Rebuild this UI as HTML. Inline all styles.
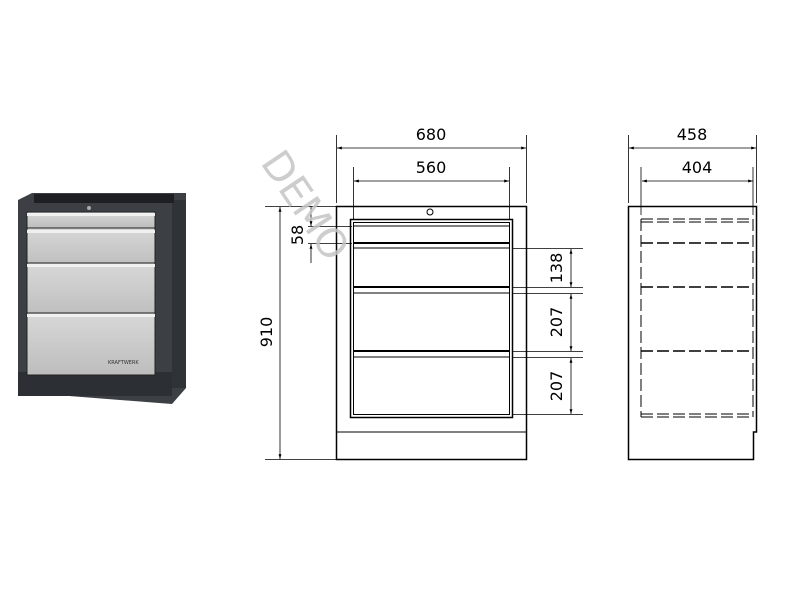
<!DOCTYPE html>
<html><head><style>body{margin:0;background:#fff}svg{display:block}</style></head><body>
<svg width="800" height="600" viewBox="0 0 800 600" xmlns="http://www.w3.org/2000/svg" font-family="DejaVu Sans, Liberation Sans, sans-serif">
<defs>
<marker id="a" viewBox="0 0 10 10" refX="10" refY="5" markerWidth="8" markerHeight="6" orient="auto-start-reverse"><path d="M0,2 L10,5 L0,8z" fill="#000"/></marker>
<linearGradient id="g" x1="0" y1="0" x2="0" y2="1"><stop offset="0" stop-color="#d8d8d8"/><stop offset="1" stop-color="#bdbdbd"/></linearGradient>
</defs>
<!-- photo -->
<path d="M18,200 L32,193 L186,193 L186,388 L172,404 L18,392 Z" fill="#3c4045"/>
<rect x="172" y="200" width="14" height="188" fill="#2f3237"/>
<rect x="34" y="194" width="140" height="9" fill="#1e1f22"/>
<rect x="18" y="372" width="154" height="24" fill="#2c2f33"/>
<circle cx="89" cy="208" r="2" fill="#aaa"/>
<g stroke="#222" stroke-width="1">
<rect x="27" y="212" width="128" height="16" fill="url(#g)"/>
<rect x="27" y="228" width="128" height="39" fill="url(#g)"/>
<rect x="27" y="263" width="128" height="56" fill="url(#g)"/>
<rect x="27" y="313" width="128" height="62" fill="url(#g)"/>
</g>
<g fill="#f0f0f0"><rect x="27" y="213" width="128" height="3"/><rect x="27" y="230" width="128" height="3"/><rect x="27" y="264" width="128" height="3"/><rect x="27" y="314" width="128" height="3"/></g>
<text x="108" y="364" font-size="5" fill="#333">KRAFTWERK</text>
<!-- front view -->
<g stroke="#000" fill="none" stroke-width="1">
<rect x="336.5" y="206.5" width="190" height="253" stroke-width="1.5"/>
<line x1="336" y1="432" x2="526" y2="432"/>
<rect x="350.5" y="219.5" width="162" height="198" stroke-width="1.5"/>
<rect x="353.5" y="222.5" width="156" height="192"/>
<line x1="353" y1="226" x2="510" y2="226"/>
<line x1="353" y1="243" x2="510" y2="243" stroke-width="2"/><line x1="353" y1="248" x2="510" y2="248"/>
<line x1="353" y1="287" x2="510" y2="287" stroke-width="2"/><line x1="353" y1="293" x2="510" y2="293"/>
<line x1="353" y1="351" x2="510" y2="351" stroke-width="2"/><line x1="353" y1="357" x2="510" y2="357"/>
<circle cx="430" cy="212" r="3"/>
<line x1="336.5" y1="135" x2="336.5" y2="203" stroke-width="0.8"/><line x1="526.5" y1="135" x2="526.5" y2="203" stroke-width="0.8"/>
<line x1="337" y1="148" x2="526" y2="148" marker-start="url(#a)" marker-end="url(#a)" stroke-width="0.8"/>
<line x1="353.5" y1="167" x2="353.5" y2="220" stroke-width="0.8"/><line x1="509.5" y1="167" x2="509.5" y2="220" stroke-width="0.8"/>
<line x1="354" y1="181" x2="509" y2="181" marker-start="url(#a)" marker-end="url(#a)" stroke-width="0.8"/>
<line x1="265" y1="206.5" x2="336" y2="206.5" stroke-width="0.8"/><line x1="265" y1="459.5" x2="336" y2="459.5" stroke-width="0.8"/>
<line x1="280" y1="207" x2="280" y2="459" marker-start="url(#a)" marker-end="url(#a)" stroke-width="0.8"/>
<line x1="308" y1="226.5" x2="352" y2="226.5" stroke-width="0.8"/><line x1="308" y1="243.5" x2="352" y2="243.5" stroke-width="0.8"/>
<line x1="311" y1="206" x2="311" y2="226" marker-end="url(#a)" stroke-width="0.8"/><line x1="311" y1="244" x2="311" y2="263" marker-start="url(#a)" stroke-width="0.8"/>
<g stroke-width="0.8">
<line x1="512" y1="248.5" x2="583" y2="248.5"/><line x1="512" y1="287.5" x2="583" y2="287.5"/><line x1="512" y1="293.5" x2="583" y2="293.5"/><line x1="512" y1="351.5" x2="583" y2="351.5"/><line x1="512" y1="357.5" x2="583" y2="357.5"/><line x1="512" y1="414.5" x2="583" y2="414.5"/>
<line x1="571" y1="249" x2="571" y2="287" marker-start="url(#a)" marker-end="url(#a)"/>
<line x1="571" y1="294" x2="571" y2="351" marker-start="url(#a)" marker-end="url(#a)"/>
<line x1="571" y1="358" x2="571" y2="414" marker-start="url(#a)" marker-end="url(#a)"/>
</g>
<!-- side view -->
<path d="M628.5,206.5 H756.5 V432 H753.5 V459.5 H628.5 Z" stroke-width="1.5"/>
<g stroke-dasharray="12,4" stroke-width="1.5">
<line x1="641" y1="219" x2="753" y2="219" stroke-width="1"/><line x1="641" y1="222" x2="753" y2="222" stroke-width="1"/>
<line x1="641" y1="243" x2="753" y2="243"/><line x1="641" y1="287" x2="753" y2="287"/><line x1="641" y1="351" x2="753" y2="351"/>
<line x1="641" y1="414" x2="753" y2="414" stroke-width="1"/><line x1="641" y1="417" x2="753" y2="417" stroke-width="1"/>
<line x1="641" y1="219" x2="641" y2="417" stroke-width="1"/><line x1="753" y1="219" x2="753" y2="417" stroke-width="1"/>
</g>
<g stroke-width="0.8">
<line x1="628.5" y1="135" x2="628.5" y2="203"/><line x1="756.5" y1="135" x2="756.5" y2="203"/>
<line x1="629" y1="148" x2="756" y2="148" marker-start="url(#a)" marker-end="url(#a)"/>
<line x1="641" y1="167" x2="641" y2="215"/><line x1="753" y1="167" x2="753" y2="215"/>
<line x1="642" y1="181" x2="753" y2="181" marker-start="url(#a)" marker-end="url(#a)"/>
</g>
</g>
<g font-size="16" fill="#000" text-anchor="middle">
<text x="431" y="140">680</text>
<text x="431" y="173">560</text>
<text x="692" y="140">458</text>
<text x="697" y="173">404</text>
<text transform="translate(272,332) rotate(-90)">910</text>
<text transform="translate(303,235) rotate(-90)">58</text>
<text transform="translate(562,268) rotate(-90)">138</text>
<text transform="translate(562,322) rotate(-90)">207</text>
<text transform="translate(562,386) rotate(-90)">207</text>
</g>
<text transform="translate(303,207) rotate(56)" font-size="40" fill="#c4c4c4" fill-opacity="0.85" text-anchor="middle" dominant-baseline="middle">DEMO</text>
</svg>
</body></html>
